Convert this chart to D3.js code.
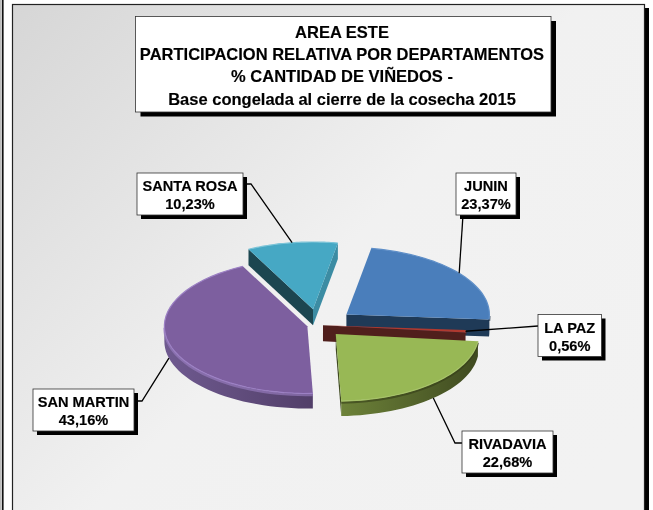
<!DOCTYPE html>
<html><head><meta charset="utf-8">
<script src="https://cdnjs.cloudflare.com/ajax/libs/d3/7.8.5/d3.min.js"></script>
<style>html,body{margin:0;padding:0;background:#fff;overflow:hidden}svg{display:block;filter:blur(.35px)}
text{font-family:"Liberation Sans",Arial,sans-serif;font-weight:bold;fill:#000}</style>
</head><body><svg id="c" width="653" height="510"></svg>
<script>
// data
const departamentos = ["JUNIN","LA PAZ","RIVADAVIA","SAN MARTIN","SANTA ROSA"];
const valores = [23.37,0.56,22.68,43.16,10.23];
const etiquetas = ["23,37%","0,56%","22,68%","43,16%","10,23%"];
const titulo = ["AREA ESTE","PARTICIPACION RELATIVA POR DEPARTAMENTOS","% CANTIDAD DE VIÑEDOS -","Base congelada al cierre de la cosecha 2015"];
// styling / layout
const topColors = ["#4a7ebb","#b0392f","#98b855","#7d5f9f","#46a8c4"];
const edgeColors = ["#5f8fc8","#c9564c","#a6c268","#9c80c4","#7cc4d8"];
const seamColors = ["#16293f","#501f1c","#333c18","#9c80c4","#3c8ca3"];
const wallL = ["#1f3a57","#501f1c","#6d8239","#6f5a90","#3c8ca3"];
const wallR = ["#1f3a57","#501f1c","#3f4a20","#523f69","#3c8ca3"];
const radialStart = ["#1f3a57","#501f1c","#3f4a20","#523f69","#1c4650"];
const radialEnd = ["#1f3a57","#501f1c","#3f4a20","#523f69","#3c8ca3"];
const explode = [36,5,26,11,34];
const depth = [17,16,15,15,16];
const boxes = [[456,173,60,42],[538,314.5,63.5,42],[462,431,91,42],[33,389,101,42],[137,173,106,42]];
const elbows = [null,null,[455,443],[142,401],[251,184]];
const anchors = [[463,215],[538,326],[462,443],[134,401],[243,184]];
const cx=318, cy=325, rx=143, tilt=.47, start=10*Math.PI/180;

const svg = d3.select("#c");
const defs = svg.append("defs");
const bg = defs.append("linearGradient").attr("id","bg").attr("x1",0).attr("y1",0).attr("x2",1).attr("y2",.8);
bg.append("stop").attr("offset",0).attr("stop-color","#d6d6d6");
bg.append("stop").attr("offset",.55).attr("stop-color","#f1f1f1");
bg.append("stop").attr("offset",1).attr("stop-color","#f2f2f2");

// frame
svg.append("rect").attr("x",0).attr("y",0).attr("width",1.8).attr("height",510).attr("fill","#bdbdbd");
svg.append("rect").attr("x",2).attr("y",0).attr("width",1.6).attr("height",510).attr("fill","#111");
svg.append("rect").attr("x",16).attr("y",8).attr("width",633).attr("height",510).attr("fill","#000");
svg.append("rect").attr("x",12.5).attr("y",4.5).attr("width",632).attr("height",520).attr("fill","url(#bg)").attr("stroke","#222").attr("stroke-width",1.2);

// title
svg.append("rect").attr("x",140.5).attr("y",21).attr("width",415.5).attr("height",95.5).attr("fill","#000");
svg.append("rect").attr("x",135.5).attr("y",16.5).attr("width",415.5).attr("height",95.5).attr("fill","#fff").attr("stroke","#333").attr("stroke-width",.8);
const tx = d3.scalePoint().domain(d3.range(titulo.length)).range([32,99]);
svg.selectAll(".t").data(titulo).join("text").attr("class","t").attr("x",342).attr("y",(d,i)=>tx(i)+5.5)
  .attr("text-anchor","middle").attr("font-size",16.5).attr("stroke","#000").attr("stroke-width",.15).text(d=>d);

// pie
const pie = d3.pie().sort(null).startAngle(start).endAngle(start+2*Math.PI).value(d=>d);
const arcs = pie(valores);
const col = d3.scaleOrdinal().domain(departamentos).range(topColors);
const arcGen = d3.arc().innerRadius(0).outerRadius(rx);
const line = d3.line();
const centers = arcs.map((a,i)=>{const m=(a.startAngle+a.endAngle)/2;
  return [cx+explode[i]*Math.sin(m), cy-explode[i]*Math.cos(m)*tilt];});
const P = (c,ang,r=rx,dy=0)=>[c[0]+r*Math.sin(ang), c[1]-r*Math.cos(ang)*tilt+dy];

const layer = svg.append("g");
arcs.forEach((a,i)=>{
  const c=centers[i], d=depth[i], g=layer.append("g");
  if(Math.sin(a.startAngle)<0){
    g.append("path").attr("d",line([c,P(c,a.startAngle),P(c,a.startAngle,rx,d),[c[0],c[1]+d]])+"Z").attr("fill",radialStart[i]);
  }
  if(Math.sin(a.endAngle)>0){
    g.append("path").attr("d",line([c,P(c,a.endAngle),P(c,a.endAngle,rx,d),[c[0],c[1]+d]])+"Z").attr("fill",radialEnd[i]);
  }
  // outer wall: part of rim facing the viewer
  const lo=Math.max(a.startAngle,Math.PI/2), hi=Math.min(a.endAngle,1.5*Math.PI);
  if(hi>lo){
    const angs=d3.range(0,33).map(k=>lo+(hi-lo)*k/32);
    const pts=angs.map(t=>P(c,t)).concat(angs.slice().reverse().map(t=>P(c,t,rx,d)));
    const id="w"+i, xs=pts.map(p=>p[0]);
    const gr=defs.append("linearGradient").attr("id",id).attr("gradientUnits","userSpaceOnUse")
      .attr("x1",d3.min(xs)).attr("x2",d3.max(xs)).attr("y1",0).attr("y2",0);
    gr.append("stop").attr("offset",0).attr("stop-color",wallL[i]);
    gr.append("stop").attr("offset",1).attr("stop-color",wallR[i]);
    g.append("path").attr("d",line(pts)+"Z").attr("fill",`url(#${id})`);
    g.append("path").attr("d",line(angs.map(t=>P(c,t,rx,1.5)))).attr("fill","none").attr("stroke",seamColors[i]).attr("stroke-width",2.4).attr("opacity",.6);
  }
  g.append("path").attr("transform",`translate(${c[0]},${c[1]}) scale(1,${tilt})`)
    .attr("d",arcGen(a)).attr("fill",col(departamentos[i]));
  const rim=d3.range(0,41).map(k=>a.startAngle+(a.endAngle-a.startAngle)*k/40);
  g.append("path").attr("d",line(rim.map(t=>P(c,t)))).attr("fill","none").attr("stroke",edgeColors[i]).attr("stroke-width",1.2);
});

// leaders
arcs.forEach((a,i)=>{
  const m=(a.startAngle+a.endAngle)/2, c=centers[i];
  const front=Math.cos(m)<0 && i!==1;
  const end=P(c,m,rx,front?depth[i]:0);
  const pts=[anchors[i]]; if(elbows[i])pts.push(elbows[i]); pts.push(end);
  svg.append("path").attr("d",line(pts)).attr("fill","none").attr("stroke","#000").attr("stroke-width",1.3);
});

// labels
departamentos.forEach((n,i)=>{
  const [x,y,w,h]=boxes[i];
  svg.append("rect").attr("x",x+4).attr("y",y+4).attr("width",w).attr("height",h).attr("fill","#000");
  svg.append("rect").attr("x",x).attr("y",y).attr("width",w).attr("height",h).attr("fill","#fff").attr("stroke","#333").attr("stroke-width",.8);
  svg.append("text").attr("x",x+w/2).attr("y",y+18).attr("text-anchor","middle").attr("font-size",14.6).attr("stroke","#000").attr("stroke-width",.15).text(n);
  svg.append("text").attr("x",x+w/2).attr("y",y+36).attr("text-anchor","middle").attr("font-size",14.6).attr("stroke","#000").attr("stroke-width",.15).text(etiquetas[i]);
});
</script></body></html>
